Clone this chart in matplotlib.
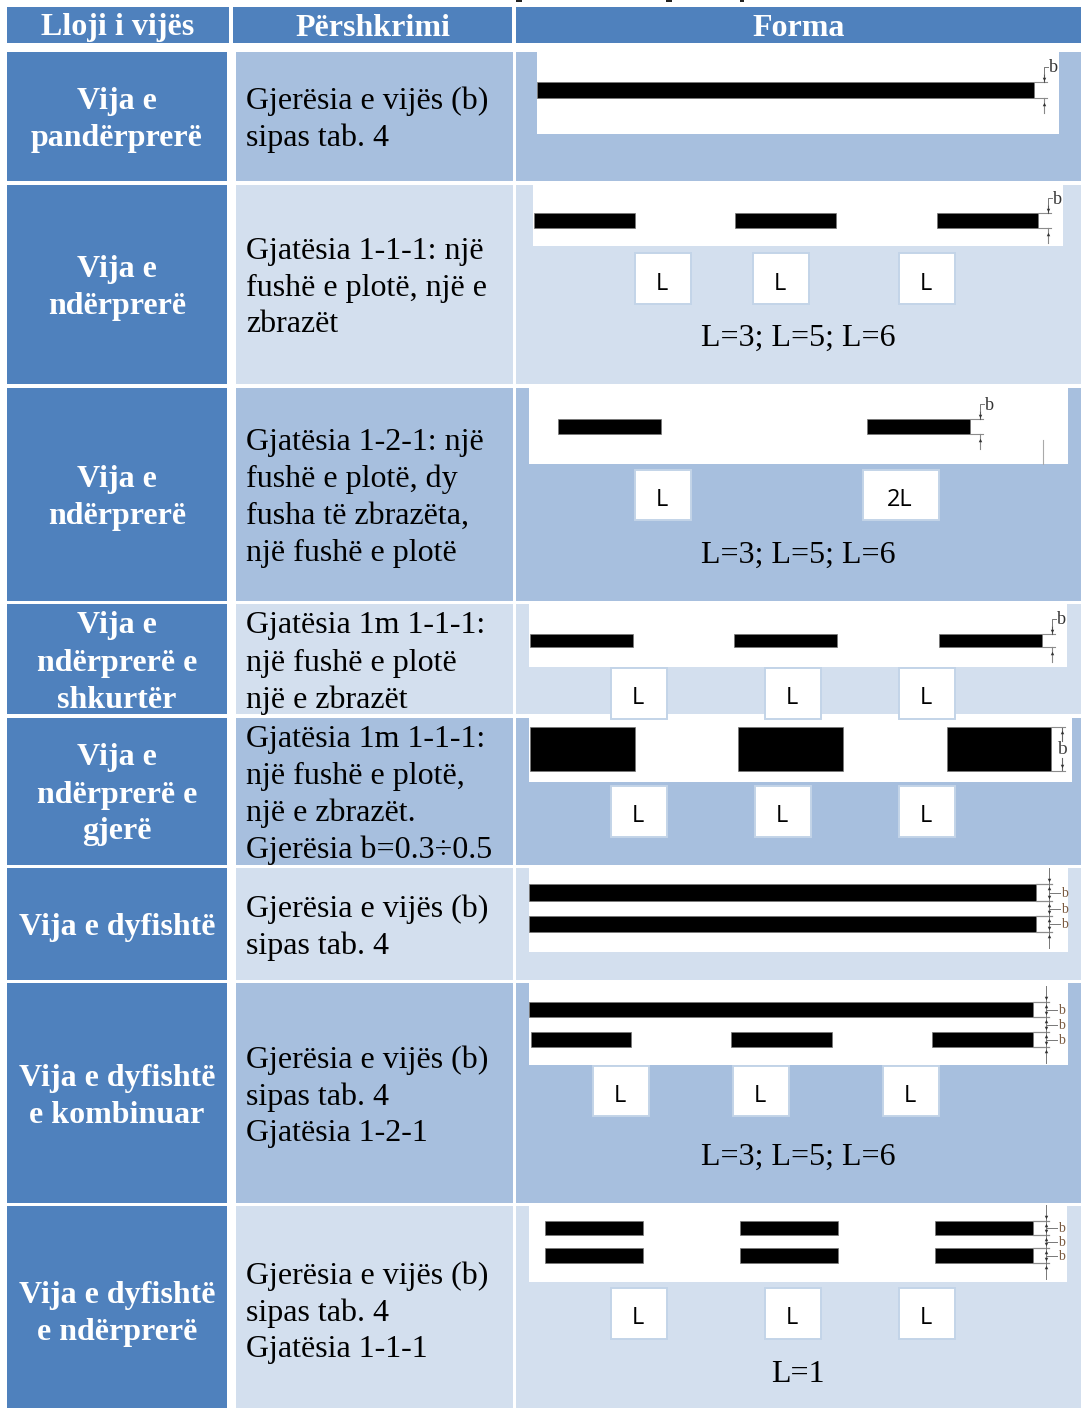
import matplotlib
matplotlib.use("Agg")
import matplotlib.pyplot as plt
from matplotlib.patches import Rectangle

W, H = 1081, 1408
SERIF = ["Liberation Serif", "DejaVu Serif"]
DARK = "#4F81BD"
MID = "#A7BFDE"
LIGHT = "#D3DFEE"
GREY = "#8c8c8c"

headers = ["Lloji i vijës", "Përshkrimi", "Forma"]
names = [
    ["Vija e", "pandërprerë"],
    ["Vija e", "ndërprerë"],
    ["Vija e", "ndërprerë"],
    ["Vija e", "ndërprerë e", "shkurtër"],
    ["Vija e", "ndërprerë e", "gjerë"],
    ["Vija e dyfishtë"],
    ["Vija e dyfishtë", "e kombinuar"],
    ["Vija e dyfishtë", "e ndërprerë"],
]
descriptions = [
    ["Gjerësia e vijës (b)", "sipas tab. 4"],
    ["Gjatësia 1-1-1: një", "fushë e plotë, një e", "zbrazët"],
    ["Gjatësia 1-2-1: një", "fushë e plotë, dy", "fusha të zbrazëta,", "një fushë e plotë"],
    ["Gjatësia 1m 1-1-1:", "një fushë e plotë", "një e zbrazët"],
    ["Gjatësia 1m 1-1-1:", "një fushë e plotë,", "një e zbrazët.", "Gjerësia b=0.3÷0.5"],
    ["Gjerësia e vijës (b)", "sipas tab. 4"],
    ["Gjerësia e vijës (b)", "sipas tab. 4", "Gjatësia 1-2-1"],
    ["Gjerësia e vijës (b)", "sipas tab. 4", "Gjatësia 1-1-1"],
]
lengths = ["", "L=3; L=5; L=6", "L=3; L=5; L=6", "", "", "", "L=3; L=5; L=6", "L=1"]
box_labels = [[], ["L", "L", "L"], ["L", "2L"], ["L", "L", "L"], ["L", "L", "L"], [],
              ["L", "L", "L"], ["L", "L", "L"]]

# layout in picture pixels
row_tops = [52, 185, 388, 604, 718, 868, 983, 1206]
row_bots = [181, 384, 601, 714, 865, 980, 1203, 1408]
name_mid = [120, 288, 498, 663, 795, 928, 1097, 1314]
desc_mid = [120, 288, 498, 663, 795, 928, 1097, 1313]
length_y = [0, 338, 555, 0, 0, 0, 1157, 1374]
white = [(537, 1059, 52, 134), (533, 1063, 185, 246), (529, 1068, 388, 464), (529, 1067, 604, 667),
         (529, 1072, 718, 782), (529, 1068, 868, 952), (529, 1068, 983, 1065), (529, 1067, 1206, 1282)]
bars = [
    [(537, 1034, 82, 98)],
    [(534, 635, 213, 228), (735, 836, 213, 228), (937, 1038, 213, 228)],
    [(558, 661, 419, 434), (867, 970, 419, 434)],
    [(530, 633, 634, 647), (734, 837, 634, 647), (939, 1042, 634, 647)],
    [(530, 635, 727, 771), (738, 843, 727, 771), (947, 1051, 727, 771)],
    [(529, 1036, 884, 901), (529, 1036, 916, 932)],
    [(529, 1033, 1002, 1017), (531, 631, 1032, 1047), (731, 832, 1032, 1047), (932, 1033, 1032, 1047)],
    [(545, 643, 1221, 1235), (740, 838, 1221, 1235), (935, 1033, 1221, 1235),
     (545, 643, 1248, 1263), (740, 838, 1248, 1263), (935, 1033, 1248, 1263)],
]
boxes = [
    [],
    [(635, 691, 253, 304), (753, 809, 253, 304), (899, 955, 253, 304)],
    [(635, 691, 470, 520), (863, 939, 470, 520)],
    [(611, 667, 668, 719), (765, 821, 668, 719), (899, 955, 668, 719)],
    [(611, 667, 786, 837), (755, 811, 786, 837), (899, 955, 786, 837)],
    [],
    [(593, 649, 1066, 1116), (733, 789, 1066, 1116), (883, 939, 1066, 1116)],
    [(611, 667, 1288, 1339), (765, 821, 1288, 1339), (899, 955, 1288, 1339)],
]
# what is left of the caption that the crop cuts off
caption_bits = [(516, 522), (666, 672), (740, 744)]

fig = plt.figure(figsize=(W / 100, H / 100), dpi=100)
ax = fig.add_axes([0, 0, 1, 1])
ax.set_xlim(0, W)
ax.set_ylim(H, 0)
ax.axis("off")


def rect(x0, x1, y0, y1, color, z=1, ec="none", lw=0):
    ax.add_patch(Rectangle((x0, y0), x1 - x0, y1 - y0, facecolor=color, edgecolor=ec, linewidth=lw, zorder=z))


def arrow(x, y, mark):
    ax.plot([x], [y], marker=mark, ms=2.5, color="#333333", mew=0, zorder=4)


def dim_single(x, top, bot):
    # dimension with one b above the bar end
    ax.plot([x, x + 13], [top, top], color=GREY, lw=0.8, zorder=4)
    ax.plot([x, x + 13], [bot, bot], color=GREY, lw=0.8, zorder=4)
    ax.plot([x + 10, x + 10], [top - 8, top], color="#555555", lw=0.8, zorder=4)
    ax.plot([x + 10, x + 10], [bot, bot + 15], color="#888888", lw=0.8, zorder=4)
    arrow(x + 10, top - 3, "v")
    arrow(x + 10, bot + 6, "^")
    ax.plot([x + 10, x + 10, x + 14], [top - 8, top - 15, top - 15], color="#777777", lw=0.7, zorder=4)
    ax.text(x + 19, top - 14, "b", family=SERIF, fontsize=13, color="#333333", ha="center", va="center", zorder=5)


def dim_triple(x, edges):
    # dimension with three stacked b labels
    for e in edges:
        ax.plot([x, x + 16], [e, e], color=GREY, lw=0.9, zorder=4)
    ax.plot([x + 13, x + 13], [edges[0] - 16, edges[-1] + 16], color="#777777", lw=0.7, zorder=4)
    for e in edges:
        arrow(x + 13, e - 4, "v")
        arrow(x + 13, e + 4, "^")
    for k in range(3):
        m = (edges[k] + edges[k + 1]) / 2
        ax.plot([x + 13, x + 24], [m, m], color="#777777", lw=0.7, zorder=4)
        ax.text(x + 28, m + 1, "b", family=SERIF, fontsize=10, color="#7a5a40", ha="center", va="center", zorder=5)


for x0, x1 in caption_bits:
    rect(x0, x1, 0, 2, "#222222")

# header band
for text, (x0, x1) in zip(headers, [(7, 229), (233, 512), (516, 1081)]):
    rect(x0, x1, 7, 43, DARK)
    ax.text((x0 + x1) / 2, 28, text, family=SERIF, fontsize=23, weight="bold", color="white",
            ha="center", va="center")

# table rows
for i in range(len(names)):
    top, bot = row_tops[i], row_bots[i]
    shade = MID if i % 2 == 0 else LIGHT
    rect(7, 227, top, bot, DARK)
    rect(236, 513, top, bot, shade)
    rect(516, 1081, top, bot, shade)

    n = len(names[i])
    for k, line in enumerate(names[i]):
        ax.text(117, name_mid[i] + (k - (n - 1) / 2) * 37, line, family=SERIF, fontsize=23, weight="bold",
                color="white", ha="center", va="center")
    n = len(descriptions[i])
    for k, line in enumerate(descriptions[i]):
        ax.text(246, desc_mid[i] + (k - (n - 1) / 2) * 37, line, family=SERIF, fontsize=23, color="black",
                ha="left", va="center")

    x0, x1, y0, y1 = white[i]
    rect(x0, x1, y0, y1, "white", z=2)
    for b in bars[i]:
        rect(b[0], b[1], b[2], b[3], "black", z=3, ec="#777777", lw=0.5)
    for label, b in zip(box_labels[i], boxes[i]):
        rect(b[0], b[1], b[2], b[3], "white", z=5, ec="#C3D4E8", lw=1.4)
        ax.text((b[0] + b[1]) / 2 - 1, (b[2] + b[3]) / 2 + 5, label, family="Open Sans", fontsize=17,
                color="black", ha="center", va="center", zorder=6)
    if lengths[i]:
        ax.text(798, length_y[i], lengths[i], family=SERIF, fontsize=23, color="black", ha="center", va="center")

# dimension marks on the line samples
dim_single(1034, 82, 98)
dim_single(1038, 213, 228)
dim_single(970, 419, 434)
dim_single(1042, 634, 647)
dim_triple(1036, [884, 901, 916, 932])
dim_triple(1033, [1002, 1017, 1032, 1047])
dim_triple(1033, [1221, 1235, 1248, 1263])

# wide line: b sits between the two edges
ax.plot([1051, 1065], [727, 727], color=GREY, lw=0.8, zorder=4)
ax.plot([1051, 1065], [771, 771], color=GREY, lw=0.8, zorder=4)
ax.plot([1062, 1062], [728, 741], color="#666666", lw=0.8, zorder=4)
ax.plot([1062, 1062], [758, 770], color="#666666", lw=0.8, zorder=4)
arrow(1062, 732, "^")
arrow(1062, 766, "v")
ax.text(1062, 750, "b", family=SERIF, fontsize=14, color="#444444", ha="center", va="center", zorder=5)
ax.plot([1043, 1043], [440, 464], color="#aaaaaa", lw=0.8, zorder=4)

fig.savefig("out.png", dpi=100)
